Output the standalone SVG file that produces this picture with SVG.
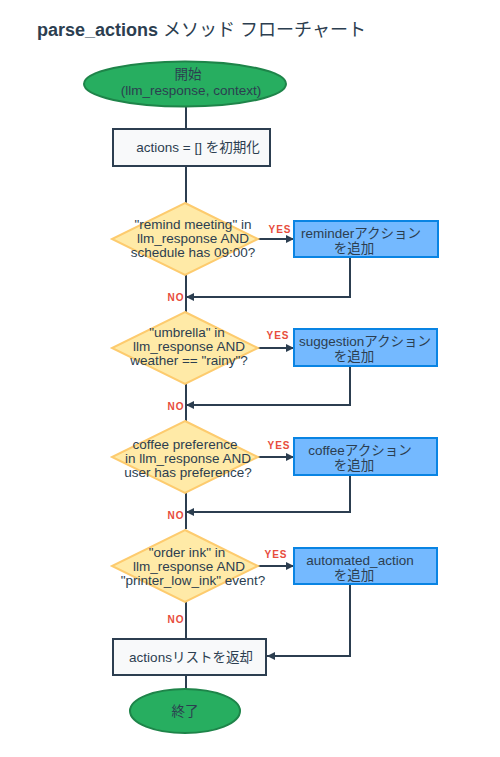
<svg xmlns="http://www.w3.org/2000/svg" width="500" height="757" viewBox="0 0 500 757">
<defs>
<marker id="arr" viewBox="0 0 10 10" refX="10" refY="5" markerWidth="8" markerHeight="8" markerUnits="userSpaceOnUse" orient="auto">
<path d="M0,0 L10,5 L0,10 z" fill="#2c3e50"/>
</marker>
<style>
text{font-family:"Liberation Sans","Noto Sans CJK JP",Arial,sans-serif;fill:#2c3e50;font-size:13.5px;text-anchor:middle}
.title{font-size:18px;font-weight:bold;text-anchor:start}
.jp{font-weight:normal}
.term{fill:#27ae60;stroke:#1e8449;stroke-width:2}
.proc{fill:#f8f9fa;stroke:#2c3e50;stroke-width:2}
.dec{fill:#ffeaa7;stroke:#fdcb6e;stroke-width:2}
.act{fill:#74b9ff;stroke:#0984e3;stroke-width:2}
.ln{fill:none;stroke:#2c3e50;stroke-width:2}
.yes,.no{fill:#e74c3c;font-size:10px;font-weight:bold;letter-spacing:1px}
</style>
</defs>
<rect width="500" height="757" fill="#ffffff"/>
<text class="title" x="37" y="36">parse_actions<tspan class="jp"> メソッド フローチャート</tspan></text>

<g id="connectors">
<path class="ln" d="M186,107 V129"/>
<path class="ln" d="M186,166 V203"/>
<path class="ln" d="M258,239 H294" marker-end="url(#arr)"/>
<path class="ln" d="M350,257 V297 H186" marker-end="url(#arr)"/>
<path class="ln" d="M186,275 V312"/>
<path class="ln" d="M258,348 H294" marker-end="url(#arr)"/>
<path class="ln" d="M350,366 V405 H186" marker-end="url(#arr)"/>
<path class="ln" d="M186,383 V421"/>
<path class="ln" d="M258,457 H294" marker-end="url(#arr)"/>
<path class="ln" d="M350,475 V512 H186" marker-end="url(#arr)"/>
<path class="ln" d="M186,493 V529"/>
<path class="ln" d="M258,566 H294" marker-end="url(#arr)"/>
<path class="ln" d="M350,584 V656 H267" marker-end="url(#arr)"/>
<path class="ln" d="M186,602 V639"/>
<path class="ln" d="M186,675 V689"/>
<text class="yes" x="280" y="233">YES</text>
<text class="yes" x="278" y="339">YES</text>
<text class="yes" x="279" y="449">YES</text>
<text class="yes" x="276" y="558">YES</text>
<text class="no" x="176" y="301">NO</text>
<text class="no" x="176" y="410">NO</text>
<text class="no" x="176" y="519">NO</text>
<text class="no" x="176" y="623">NO</text>
</g>

<g id="start">
<ellipse class="term" cx="185" cy="84" rx="101" ry="22.5"/>
<text x="188" y="79">開始</text>
<text x="191" y="95">(llm_response, context)</text>
</g>

<g id="init">
<rect class="proc" x="113" y="129" width="157" height="37"/>
<text x="198" y="152">actions = [] を初期化</text>
</g>

<g id="d1">
<polygon class="dec" points="185,203 258,239 185,275 112,239"/>
<text x="193" y="229">"remind meeting" in</text>
<text x="193" y="243">llm_response AND</text>
<text x="193" y="257">schedule has 09:00?</text>
</g>
<g id="a1">
<rect class="act" x="294" y="221" width="144" height="36"/>
<text x="361" y="238">reminderアクション</text>
<text x="354" y="253">を追加</text>
</g>

<g id="d2">
<polygon class="dec" points="185,312 258,348 185,384 112,348"/>
<text x="187" y="337">"umbrella" in</text>
<text x="189" y="351">llm_response AND</text>
<text x="189" y="365">weather == "rainy"?</text>
</g>
<g id="a2">
<rect class="act" x="294" y="329" width="143" height="37"/>
<text x="365" y="346">suggestionアクション</text>
<text x="354" y="361">を追加</text>
</g>

<g id="d3">
<polygon class="dec" points="185,421 258,457 185,493 112,457"/>
<text x="185" y="449">coffee preference</text>
<text x="188" y="463">in llm_response AND</text>
<text x="188" y="477">user has preference?</text>
</g>
<g id="a3">
<rect class="act" x="294" y="438" width="143" height="37"/>
<text x="360" y="455">coffeeアクション</text>
<text x="354" y="470">を追加</text>
</g>

<g id="d4">
<polygon class="dec" points="185,530 258,566 185,602 112,566"/>
<text x="187" y="557">"order ink" in</text>
<text x="189" y="571">llm_response AND</text>
<text x="193" y="585">"printer_low_ink" event?</text>
</g>
<g id="a4">
<rect class="act" x="294" y="548" width="143" height="36"/>
<text x="360" y="565">automated_action</text>
<text x="354" y="580">を追加</text>
</g>

<g id="ret">
<rect class="proc" x="113" y="639" width="153" height="36"/>
<text x="191" y="662">actionsリストを返却</text>
</g>

<g id="end">
<ellipse class="term" cx="185" cy="711" rx="55" ry="22"/>
<text x="185" y="716">終了</text>
</g>
</svg>
